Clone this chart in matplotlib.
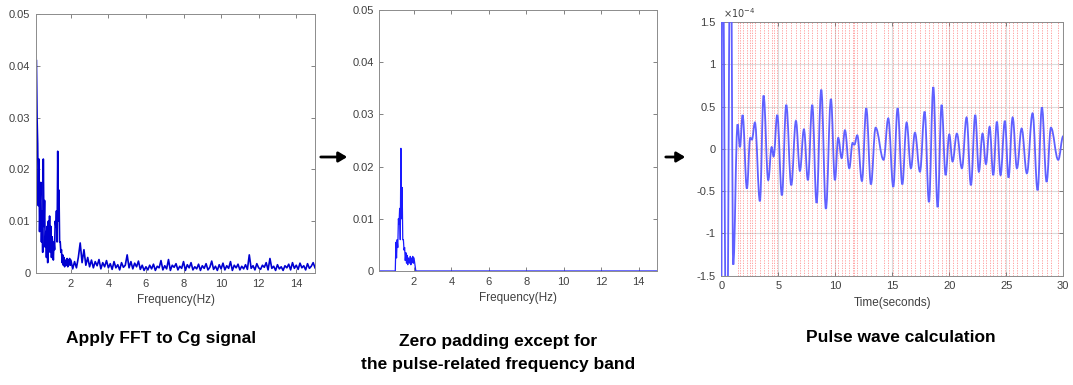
import numpy as np
import matplotlib
matplotlib.use("Agg")
from matplotlib import pyplot as plt
from matplotlib.path import Path
from matplotlib.patches import PathPatch, FancyArrowPatch
from matplotlib.ticker import FuncFormatter

# ---- spectrum of Cg signal (values in 1e-3) ----
low_f0 = 0.17
low_df = 1 / 30
low_amp = [41, 30, 25, 13, 22, 8, 14, 17.5, 6, 12, 4, 22, 9, 14, 5, 8, 3, 9, 2, 10,
           5, 11, 4, 9, 3, 7, 5.5, 2.5, 6, 4.5, 10, 9, 12, 6, 23.5, 10, 16, 6, 6, 4,
           4.5, 2, 3.5, 1.5, 3, 1.2, 2.5, 2, 1.5, 2.8, 1.2, 2.5, 1.6, 2.8, 1.5, 2.5]

high_f0 = 2.1
high_df = 0.1
high_amp = [0.8, 2.2, 1.0, 3.0, 5.8, 2.0, 4.5, 1.5, 3.0, 1.2,
            2.5, 1.0, 2.2, 1.4, 2.6, 0.8, 2.0, 1.2, 2.4, 1.0,
            1.8, 0.7, 2.2, 1.0, 1.6, 0.6, 2.0, 1.1, 1.5, 3.5,
            1.0, 2.2, 0.8, 1.9, 1.2, 2.3, 0.7, 1.5, 0.5, 1.2,
            0.6, 1.5, 0.8, 1.7, 0.5, 1.3, 1.0, 2.4, 0.6, 1.4,
            0.8, 2.6, 0.5, 1.5, 1.1, 1.8, 0.6, 1.3, 0.9, 2.2,
            0.5, 1.6, 1.0, 2.0, 0.6, 1.2, 0.8, 1.7, 0.5, 1.4,
            0.9, 1.8, 0.6, 1.1, 2.3, 0.7, 1.3, 0.5, 1.6, 0.8,
            1.9, 0.6, 1.4, 0.9, 2.2, 0.5, 1.5, 1.0, 1.7, 0.6,
            1.3, 0.8, 1.6, 0.7, 3.5, 0.9, 1.4, 0.6, 1.8, 1.0,
            0.7, 1.5, 1.1, 2.0, 0.6, 2.8, 0.9, 1.3, 0.5, 1.6,
            0.8, 1.2, 0.5, 1.4, 1.0, 1.7, 0.6, 2.0, 0.9, 1.5,
            0.7, 1.9, 1.0, 1.4, 0.6, 1.8, 0.9, 1.3, 2.0, 1.0]

band = (1.02, 2.02)  # pulse-related band kept in panel 2

# ---- pulse wave extrema (time s, value 1e-4) ----
pulse_t = [0.0, 0.09, 0.47, 0.82, 1.05, 1.43, 1.64, 1.87, 2.25, 2.54, 2.69, 2.95, 3.39, 3.71,
           4.12, 4.42, 4.59, 4.91, 5.32, 5.70, 6.14, 6.55, 6.90, 7.25, 7.60, 7.98, 8.36,
           8.77, 9.18, 9.62, 9.97, 10.26, 10.56, 10.85, 11.23, 11.52, 11.68, 11.93, 12.34,
           12.72, 13.13, 13.54, 14.24, 14.65, 15.09, 15.47, 15.88, 16.26, 16.64, 16.99,
           17.43, 17.84, 18.22, 18.60, 18.98, 19.33, 19.68, 20.00, 20.29, 20.67, 21.11,
           21.52, 21.90, 22.28, 22.60, 22.92, 23.22, 23.54, 23.86, 24.18, 24.50, 24.88,
           25.20, 25.56, 25.94, 26.35, 26.81, 27.31, 27.75, 28.13, 28.54, 28.92, 29.56, 30.0]
pulse_v = [-2.0, 3.0, -3.0, 3.0, -1.37, 0.29, 0.02, 0.40, -0.47, 0.13, 0.11, 0.31, -0.62, 0.63,
           -0.37, 0.02, -0.09, 0.40, -0.55, 0.52, -0.43, 0.33, -0.26, 0.23, -0.37, 0.52, -0.64,
           0.70, -0.71, 0.59, -0.37, 0.13, -0.11, 0.22, -0.23, 0.07, 0.05, 0.16, -0.38,
           0.48, -0.42, 0.25, -0.13, 0.36, -0.45, 0.48, -0.42, 0.31, -0.23, 0.19,
           -0.27, 0.44, -0.63, 0.73, -0.69, 0.52, -0.31, 0.17, -0.15, 0.18, -0.23,
           0.37, -0.43, 0.40, -0.27, 0.18, -0.18, 0.26, -0.31, 0.32, -0.31, 0.33,
           -0.34, 0.37, -0.23, 0.24, -0.29, 0.42, -0.49, 0.49, -0.39, 0.25, -0.13, 0.15]

captions = ["Apply FFT to Cg signal",
            "Zero padding except for\nthe pulse-related frequency band",
            "Pulse wave calculation"]

freq = np.concatenate([low_f0 + low_df * np.arange(len(low_amp)),
                       high_f0 + high_df * np.arange(len(high_amp))])
amp = np.concatenate([low_amp, high_amp]) * 1e-3
amp_band = np.where((freq >= band[0]) & (freq <= band[1]), amp, 0.0)

plt.rcParams['font.family'] = ['Liberation Sans', 'DejaVu Sans']
gray = '#404040'


def matlab_axes(ax):
    for s in ax.spines.values():
        s.set_color('#8c8c8c')
        s.set_linewidth(0.7)
    ax.tick_params(direction='in', length=3, width=0.6, color='#6e6e6e',
                   labelsize=8, labelcolor=gray, top=True, right=True, pad=4)


fig = plt.figure(figsize=(10.73, 3.85), dpi=100)

ax1 = fig.add_axes([0.0336, 0.2909, 0.260, 0.6727])
ax1.plot(freq, amp, color='#0000d0', lw=1.2)
ax2 = fig.add_axes([0.3535, 0.2961, 0.2591, 0.678])
ax2.plot(freq, amp_band, color='#1a1aff', lw=0.9)
for ax in (ax1, ax2):
    ax.set_xlim(0.15, 15)
    ax.set_ylim(0, 0.05)
    ax.set_xticks(range(2, 15, 2))
    ax.set_yticks(np.arange(0, 0.051, 0.01))
    ax.yaxis.set_major_formatter(FuncFormatter(lambda v, p: f"{v:g}"))
    ax.set_xlabel("Frequency(Hz)", fontsize=8.5, color=gray, labelpad=4)
    matlab_axes(ax)

ax3 = fig.add_axes([0.6722, 0.2839, 0.3187, 0.659])
ax3.set_xlim(0, 30)
ax3.set_ylim(-1.5e-4, 1.5e-4)
ax3.set_xticks(range(0, 31, 5))
ax3.set_yticks(np.arange(-1.5e-4, 1.51e-4, 0.5e-4))
ax3.yaxis.set_major_formatter(FuncFormatter(lambda v, p: f"{round(v * 1e4, 2):g}"))
ax3.grid(True, color='#dcdcdc', lw=0.8)
for t in pulse_t[5:-1]:
    ax3.axvline(t, color='#ff4d4d', ls=(0, (1.5, 1.5)), lw=0.6, alpha=0.6)
# smooth curve through the extrema (horizontal tangents)
verts = [(pulse_t[0], pulse_v[0] * 1e-4)]
codes = [Path.MOVETO]
for i in range(1, len(pulse_t)):
    t0, t1 = pulse_t[i - 1], pulse_t[i]
    v0, v1 = pulse_v[i - 1] * 1e-4, pulse_v[i] * 1e-4
    d = (t1 - t0) / 2.6
    verts += [(t0 + d, v0), (t1 - d, v1), (t1, v1)]
    codes += [Path.CURVE4] * 3
ax3.add_patch(PathPatch(Path(verts, codes), fill=False, edgecolor='#6060ff', lw=1.3, zorder=3))
ax3.text(0.005, 1.008, r'$\times10^{-4}$', transform=ax3.transAxes, fontsize=7, color=gray,
         va='bottom')
ax3.set_xlabel("Time(seconds)", fontsize=8.5, color=gray, labelpad=4)
matlab_axes(ax3)

# arrows between panels
for x0, x1 in [(318, 350), (663, 688)]:
    fig.patches.append(FancyArrowPatch(
        (x0 / 1073, 1 - 157 / 385), (x1 / 1073, 1 - 157 / 385), transform=fig.transFigure,
        arrowstyle='-|>,head_length=5,head_width=3', color='k', lw=2, mutation_scale=1))

cap_font = ['Liberation Sans', 'DejaVu Sans']
fig.text(161 / 1073, 1 - 338 / 385, captions[0], ha='center', va='center', fontsize=12.5,
         fontweight='bold', family=cap_font, fontstretch='condensed')
fig.text(498 / 1073, 1 - 353 / 385, captions[1], ha='center', va='center', fontsize=12.5,
         fontweight='bold', family=cap_font, fontstretch='condensed', linespacing=1.7)
fig.text(901 / 1073, 1 - 338 / 385, captions[2], ha='center', va='center', fontsize=12.5,
         fontweight='bold', family=cap_font, fontstretch='condensed')

fig.savefig("out.png", dpi=100)
